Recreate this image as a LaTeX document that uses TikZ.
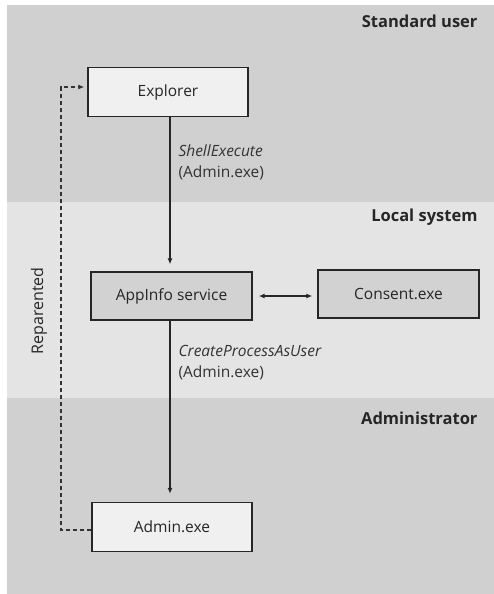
\documentclass[tikz,border=0pt]{standalone}
\usepackage{fontspec}
\setmainfont{Open Sans}
\usetikzlibrary{arrows.meta}
\definecolor{bandDark}{HTML}{D0D0D0}
\definecolor{bandLight}{HTML}{E4E4E4}
\definecolor{boxLight}{HTML}{F0F0F0}
\definecolor{boxDark}{HTML}{D2D2D2}
\begin{document}
\begin{tikzpicture}[x=1pt,y=-1pt,
  procbox/.style={draw=black!85, line width=1.4pt, minimum width=160pt, minimum height=49pt, inner sep=0pt, font=\fontsize{15.5}{18}\selectfont, text=black!85},
  bandlabel/.style={anchor=east, font=\fontsize{16.5}{19}\selectfont\bfseries, text=black!85},
  edgelabel/.style={anchor=north west, align=left, font=\fontsize{15.5}{21}\selectfont, text=black!80},
  conn/.style={line width=1.2pt, black!85, -{Latex[length=6pt,width=5pt]}},
  dashconn/.style={line width=1.2pt, black!80, dashed, dash pattern=on 4.5pt off 2.5pt, -{Latex[length=6pt,width=5pt]}}
]
\useasboundingbox (0,0) rectangle (494,594);
\fill[white] (0,0) rectangle (494,594);
\fill[bandDark] (7,5) rectangle (494,202);
\fill[bandLight] (7,202) rectangle (494,398);
\fill[bandDark] (7,398) rectangle (494,594);
\node[bandlabel] (lstd) at (481,21) {Standard user};
\node[bandlabel] (lloc) at (481,217) {Local system};
\node[bandlabel] (ladm) at (481,418) {Administrator};
\node[procbox, fill=boxLight] (explorer) at (168,92) {Explorer};
\node[procbox, fill=boxDark, minimum width=161pt, minimum height=48pt] (appinfo) at (171.5,296) {AppInfo service};
\node[procbox, fill=boxDark, minimum width=161pt, minimum height=48pt] (consent) at (398.5,294) {Consent.exe};
\node[procbox, fill=boxLight] (admin) at (172,527) {Admin.exe};
\draw[conn] (explorer.south -| 170,0) -- ([yshift=7pt]appinfo.north -| 170,0);
\draw[conn] (appinfo.south -| 170,0) -- ([yshift=8pt]admin.north -| 170,0);
\draw[line width=1.2pt, black!85, {Latex[length=6pt,width=5pt]}-{Latex[length=6pt,width=5pt]}] ([xshift=6pt]appinfo.east) -- ([xshift=-5pt]consent.west |- appinfo.east);
\node[edgelabel] (l1) at (175,141) {\textit{ShellExecute}\\(Admin.exe)};
\node[edgelabel] (l2) at (175,342) {\textit{CreateProcessAsUser}\\(Admin.exe)};
\coordinate (dtop) at (61,87);
\coordinate (dbot) at (61,530);
\draw[dashconn] (admin.west |- dbot) -- (dbot) -- (dtop) -- ([xshift=-3pt]explorer.west |- dtop);
\node[rotate=90, font=\fontsize{16}{18}\selectfont, text=black!85] (rep) at (39,311) {Reparented};
\end{tikzpicture}
\end{document}
